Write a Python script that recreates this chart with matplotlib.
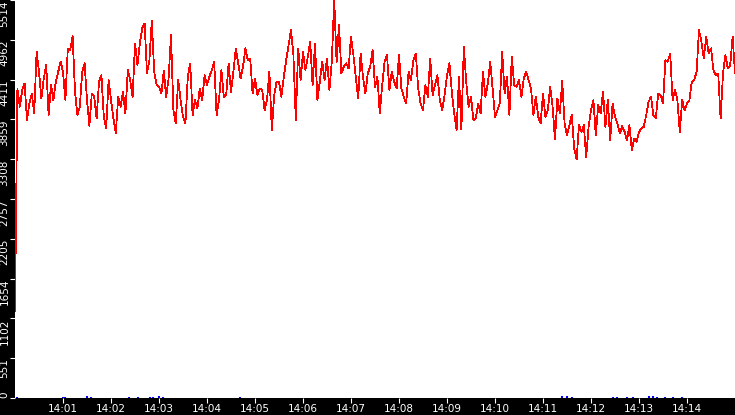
import pandas as pd
import matplotlib
matplotlib.use("Agg")
import matplotlib.pyplot as plt
import matplotlib.dates as mdates

# red series, one reading every 3 seconds from 14:00:00 to 14:15:00
red_values = [
    1200, 4290, 4035, 4266, 4358, 3850, 4081, 4220, 3942, 4797,
    4520, 4150, 4428, 4612, 3919, 4335, 4127, 4381, 4520, 4659,
    4520, 4127, 4844, 4821, 5015, 4243, 3919, 4035, 4520, 4636,
    4127, 3771, 4220, 4173, 3873, 4381, 4474, 3896, 3734, 4404,
    4127, 3873, 3665, 4173, 4035, 4243, 3942, 4543, 4404, 4173,
    4913,
    4612, 4913, 5121, 5190, 4497, 4682, 5227, 4520, 4335, 4312,
    4220, 4529, 4173, 4428, 5029, 3988, 3803, 4404, 4127, 3896,
    3803, 4451, 4636, 3919, 4127, 4011, 4289, 4127, 4474, 4335,
    4451, 4543, 4659, 3919, 4127, 4543, 4173, 4197, 4636, 4243,
    4520, 4844, 4636, 4428, 4589, 4844, 4682, 4705, 4220, 4428,
    4197, 4289, 4266, 3988, 4127, 4520, 3711, 4197, 4381, 4381,
    4173, 4451, 4682, 4890, 5098, 4751, 3850, 4844, 4404, 4797,
    4543, 4728, 4936, 4335, 4913, 4127, 4381, 4659, 4404, 4705,
    4266, 4659, 5514, 4659, 5167, 4497, 4589, 4636, 4566, 5006,
    4751, 4451, 4150, 4774, 4451, 4220, 4497, 4589, 4821, 4303,
    4451, 3942, 4335, 4659, 4751, 4266, 4520, 4381, 4289, 4751,
    4289, 4173, 4081, 4520, 4404, 4682, 4774, 4289, 4081, 3988,
    4335, 4173, 4705, 4197, 4335, 4474, 4127, 3988, 4197, 4474,
    4636, 4243, 3942, 3711, 4451, 3720, 4867, 4381, 4035, 4173,
    3850, 3873, 4081, 3942, 4520, 4173, 4358, 4659, 4289, 3896,
    3988, 4081, 4797, 4220, 4451, 3919, 4728, 4335, 4312, 4404,
    4173, 4428, 4520, 4404, 4289, 3919, 4173, 3896, 3803, 4220,
    3896, 3988, 4312, 4035, 3582, 4150, 3942, 4391, 3803, 3642,
    3780, 3919, 3457, 3304, 3780, 3688, 3780, 3341, 3757, 3988,
    4127, 3642, 4058, 3942, 4243, 3757, 4127, 3572, 4081, 3896,
    3803, 3665, 3766, 3688, 3572, 3780, 3434, 3595, 3549, 3688,
    3734, 3757, 3919, 4104, 4173, 3919, 3873, 4220, 4197, 4081,
    4682, 4659, 4774, 4127, 4266, 4127, 3688, 4127, 3988, 4081,
    4127, 4381, 4404, 4520, 5098, 4936, 4705, 5006, 4774, 4844,
    4543, 4474, 4497, 3873, 4497, 4751, 4566, 4612, 5006, 4497,
]

# small blue blips sitting on the zero line
blue_times = ["14:00:02", "14:01:00", "14:01:03", "14:01:30", "14:01:35",
              "14:02:22", "14:02:34", "14:02:49", "14:02:53", "14:03:00",
              "14:03:05", "14:04:41", "14:11:24", "14:11:30", "14:11:36",
              "14:12:28", "14:12:32", "14:12:45", "14:12:53", "14:13:12",
              "14:13:18", "14:13:23", "14:13:32", "14:13:43", "14:13:54"]
blue_values = [20, 20, 20, 25, 20, 20, 15, 20, 15, 25,
               20, 15, 25, 25, 20, 20, 20, 15, 15, 25,
               25, 20, 20, 15, 20]

y_ticks = [0, 551, 1102, 1654, 2205, 2757, 3308, 3859, 4411, 4962, 5514]

day = "2024-01-01 "
times = pd.date_range(day + "14:00:00", periods=len(red_values), freq="3s")
blue_t = pd.to_datetime([day + t for t in blue_times])

fig = plt.figure(figsize=(7.35, 4.15), dpi=100, facecolor="black")
ax = fig.add_axes([15 / 735, 17 / 415, 720 / 735, 398 / 415])
ax.set_facecolor("white")

ax.vlines(blue_t, 0, blue_values, color="blue", lw=1.5)
ax.plot(times, red_values, color="red", lw=0.55, antialiased=False)

ax.set_ylim(0, 5514)
ax.set_xlim(pd.Timestamp(day + "14:00:00"), pd.Timestamp(day + "14:15:00"))

ax.set_yticks(y_ticks)
ax.set_yticklabels([str(v) for v in y_ticks])
ax.xaxis.set_major_locator(mdates.MinuteLocator(byminute=range(1, 15)))
ax.xaxis.set_major_formatter(mdates.DateFormatter("%H:%M"))

for s in ax.spines.values():
    s.set_visible(False)

# tick sizes are in points: 3.6pt is about 5px at 100 dpi
ax.tick_params(axis="both", colors="white", labelsize=7.5, length=3.6, width=0.8)
ax.tick_params(axis="y", pad=0.3)
ax.tick_params(axis="x", pad=0.5)
for lab in ax.get_yticklabels():
    lab.set_rotation(90)
    lab.set_va("top")
    lab.set_ha("right")
ax.get_yticklabels()[0].set_va("bottom")

fig.savefig("out.png", dpi=100, facecolor="black")
